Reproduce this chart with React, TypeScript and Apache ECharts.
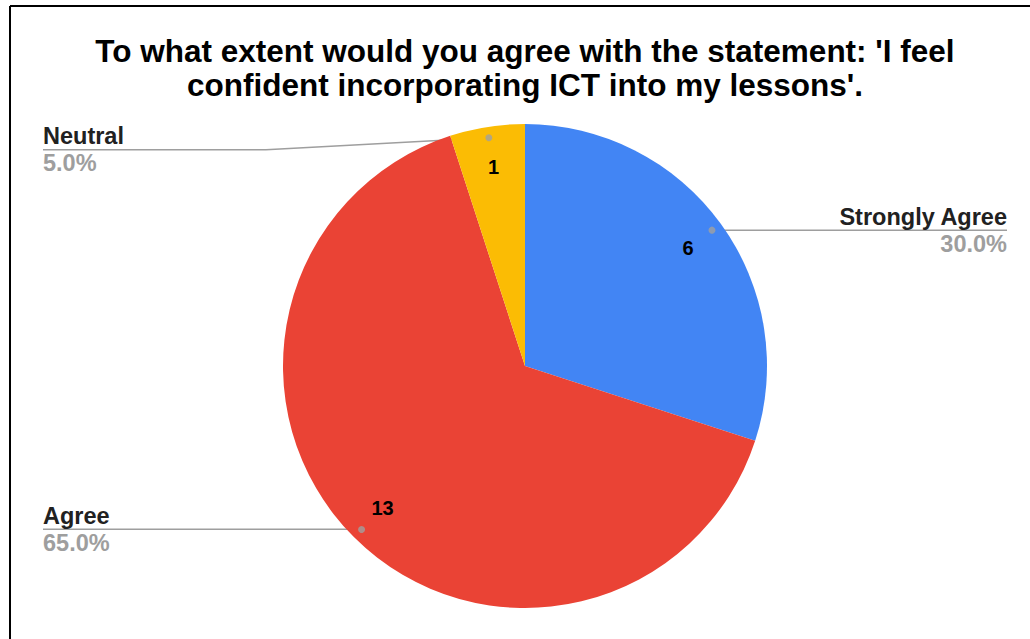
import React, { useEffect, useRef } from 'react';
import * as echarts from 'echarts';

const TITLE_LINES = [
  "To what extent would you agree with the statement: 'I feel",
  "confident incorporating ICT into my lessons'.",
];
const categories = ['Strongly Agree', 'Agree', 'Neutral'];
const counts = [6, 13, 1];
const sliceColors = ['#4285F4', '#EA4335', '#FBBC04'];

const FONT = 'Arial, "Liberation Sans", sans-serif';

export default function App() {
  const ref = useRef<HTMLDivElement>(null);

  useEffect(() => {
    const chart = echarts.init(ref.current as HTMLDivElement, null, { renderer: 'svg' });
    const total = counts.reduce((a, b) => a + b, 0);
    const center = [525, 366];
    const R = 242;
    const edgeDist = [23, 43, 43];
    const labelShiftY = [0, 0, 12];

    let cum = 0;
    const dotData = counts.map((c) => {
      const mid = cum + c / 2;
      cum += c;
      return [0.955, mid];
    });

    const option: any = {
      animation: false,
      backgroundColor: '#fff',
      title: {
        text: TITLE_LINES.join('\n'),
        left: 520,
        top: 29,
        textAlign: 'center',
        textStyle: {
          fontSize: 31.5,
          fontWeight: 'bold',
          color: '#000',
          fontFamily: FONT,
          lineHeight: 34,
        },
      },
      graphic: [
        { type: 'line', shape: { x1: 10, y1: 6, x2: 1030, y2: 6 }, style: { stroke: '#000', lineWidth: 2 } },
        { type: 'line', shape: { x1: 10, y1: 6, x2: 10, y2: 639 }, style: { stroke: '#000', lineWidth: 2 } },
      ],
      polar: { center, radius: R },
      angleAxis: { type: 'value', min: 0, max: total, startAngle: 90, clockwise: true, show: false },
      radiusAxis: { type: 'value', min: 0, max: 1, show: false },
      series: [
        {
          type: 'pie',
          center,
          radius: [0, R],
          startAngle: 90,
          clockwise: true,
          silent: true,
          label: { show: false },
          labelLine: { show: false },
          data: categories.map((name, i) => ({ name, value: counts[i], itemStyle: { color: sliceColors[i] } })),
        },
        {
          type: 'pie',
          center,
          radius: [155, R],
          startAngle: 90,
          clockwise: true,
          silent: true,
          itemStyle: { color: 'rgba(0,0,0,0)' },
          label: {
            show: true,
            position: 'inside',
            formatter: '{c}',
            fontSize: 20,
            fontWeight: 'bold',
            color: '#000',
            fontFamily: FONT,
          },
          labelLine: { show: false },
          data: categories.map((name, i) => ({ name, value: counts[i] })),
        },
        {
          type: 'pie',
          center,
          radius: [0, 231],
          startAngle: 90,
          clockwise: true,
          silent: true,
          avoidLabelOverlap: false,
          itemStyle: { color: 'rgba(0,0,0,0)' },
          label: {
            show: true,
            position: 'outside',
            alignTo: 'edge',
            formatter: (p: any) => `{n|${p.name}}\n{p|${((p.value / total) * 100).toFixed(1)}%}`,
            rich: {
              n: { fontSize: 23.5, fontWeight: 'bold', color: '#212121', fontFamily: FONT, lineHeight: 27 },
              p: { fontSize: 23.5, fontWeight: 'bold', color: '#9e9e9e', fontFamily: FONT, lineHeight: 27 },
            },
          },
          labelLine: { show: true, length: 0, length2: 10, lineStyle: { color: '#9e9e9e', width: 1.5 } },
          labelLayout: (params: any) => {
            const rect = params.labelRect;
            const pts = params.labelLinePoints;
            if (!rect || !pts) return {};
            const shift = labelShiftY[params.dataIndex] || 0;
            const cy = rect.y + rect.height / 2 + shift;
            const start = pts[0];
            const rightSide = rect.x + rect.width / 2 > start[0];
            const farX = rightSide ? rect.x + rect.width : rect.x;
            const midX = (start[0] + farX) / 2;
            return {
              y: cy,
              labelLinePoints: [start, [midX, cy], [farX, cy]],
            };
          },
          data: categories.map((name, i) => ({ name, value: counts[i], label: { edgeDistance: edgeDist[i] } })),
        },
        {
          type: 'scatter',
          coordinateSystem: 'polar',
          silent: true,
          symbolSize: 7,
          itemStyle: { color: '#a0a0a0' },
          z: 5,
          data: dotData,
        },
      ],
    };

    chart.setOption(option);
    return () => chart.dispose();
  }, []);

  return <div ref={ref} style={{ position: 'absolute', left: 0, top: 0, width: 1030, height: 639 }} />;
}
